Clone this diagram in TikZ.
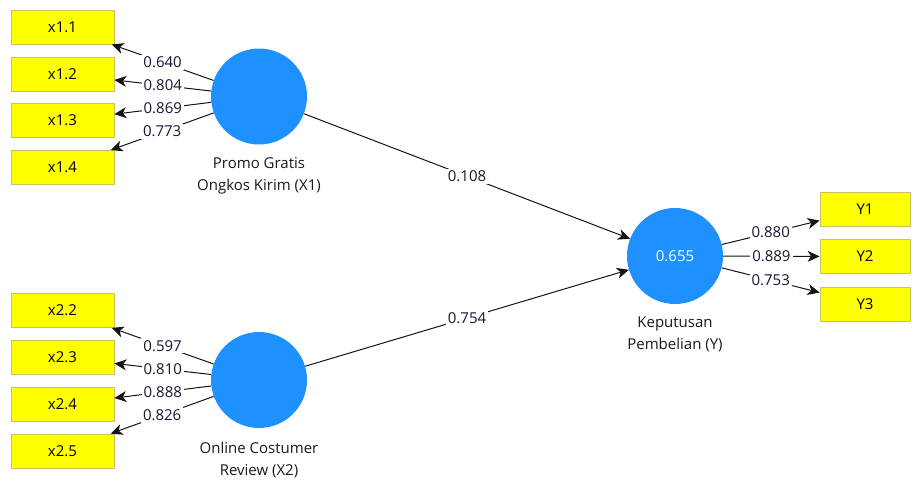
\documentclass[tikz,border=0pt]{standalone}
\usepackage{fontspec}
\setmainfont{Open Sans}
\usetikzlibrary{arrows.meta}
\definecolor{lvblue}{RGB}{30,144,255}
\definecolor{indfill}{RGB}{255,255,0}
\definecolor{indline}{RGB}{195,195,95}
\definecolor{linkgray}{RGB}{20,20,20}
\definecolor{coeftext}{RGB}{25,20,50}
\begin{document}
\begin{tikzpicture}[x=1pt,y=-1pt,
  indicator/.style={draw=indline, fill=indfill, line width=0.8pt,
    minimum width=103pt, minimum height=34pt, inner sep=0pt,
    font=\fontsize{15}{18}\selectfont},
  yindicator/.style={indicator, minimum width=90pt},
  latent/.style={circle, fill=lvblue, minimum size=96pt, inner sep=0pt,
    text=white, font=\fontsize{15}{18}\selectfont},
  caption/.style={align=center, anchor=north, inner sep=0pt,
    font=\fontsize{15}{22}\selectfont, text=black!90},
  link/.style={-{Stealth[length=12pt,width=11pt,inset=3.5pt]}, draw=linkgray, line width=1pt},
  coef/.style={fill=white, inner sep=2pt, text=coeftext,
    font=\fontsize{15}{18}\selectfont}
]
\useasboundingbox (0,0) rectangle (912,483);

% latent variables
\node[latent] (X1) at (259,96.5) {};
\node[latent] (X2) at (259,380) {};
\node[latent] (Y) at (675,256) {0.655};

\node[caption] (capX1) at (259,157) {Promo Gratis\\Ongkos Kirim (X1)};
\node[caption] (capX2) at (259,442) {Online Costumer\\Review (X2)};
\node[caption] (capY) at (675,317) {Keputusan\\Pembelian (Y)};

% indicators of X1
\node[indicator] (x11) at (62.5,27) {x1.1};
\node[indicator] (x12) at (62.5,74) {x1.2};
\node[indicator] (x13) at (62.5,120.5) {x1.3};
\node[indicator] (x14) at (62.5,167.5) {x1.4};

% indicators of X2
\node[indicator] (x22) at (62.5,310.5) {x2.2};
\node[indicator] (x23) at (62.5,357.5) {x2.3};
\node[indicator] (x24) at (62.5,404.5) {x2.4};
\node[indicator] (x25) at (62.5,451) {x2.5};

% indicators of Y
\node[yindicator] (y1) at (865,209.5) {Y1};
\node[yindicator] (y2) at (865,256.5) {Y2};
\node[yindicator] (y3) at (865,304) {Y3};

% outer loadings
\draw[link] (X1) -- node[coef] {0.640} (x11);
\draw[link] (X1) -- node[coef] {0.804} (x12);
\draw[link] (X1) -- node[coef] {0.869} (x13);
\draw[link] (X1) -- node[coef] {0.773} (x14);

\draw[link] (X2) -- node[coef] {0.597} (x22);
\draw[link] (X2) -- node[coef] {0.810} (x23);
\draw[link] (X2) -- node[coef] {0.888} (x24);
\draw[link] (X2) -- node[coef] {0.826} (x25);

\draw[link] (Y) -- node[coef] {0.880} (y1);
\draw[link] (Y) -- node[coef] {0.889} (y2);
\draw[link] (Y) -- node[coef] {0.753} (y3);

% path coefficients
\draw[link] (X1) -- node[coef] {0.108} (Y);
\draw[link] (X2) -- node[coef] {0.754} (Y);
\end{tikzpicture}
\end{document}
